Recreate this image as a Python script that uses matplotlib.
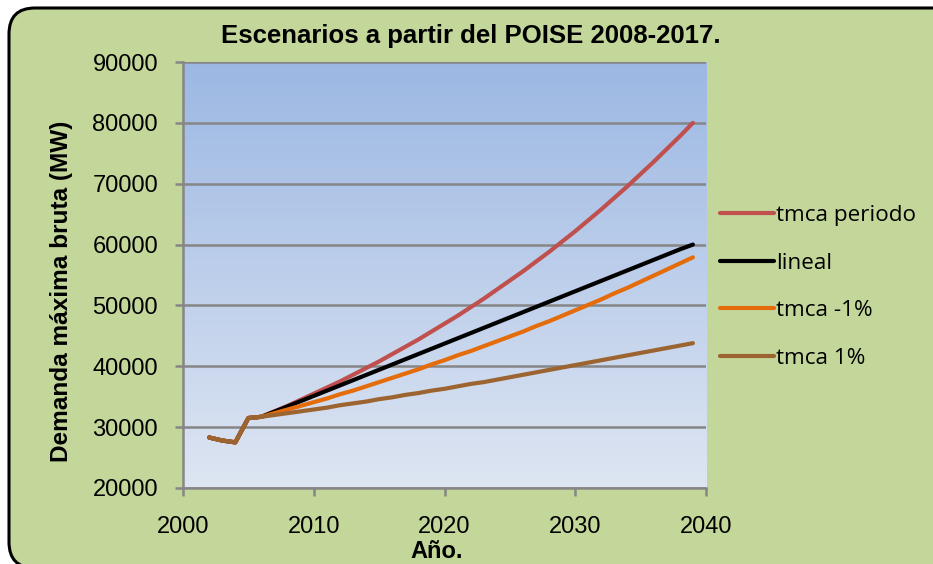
import matplotlib.pyplot as plt
from matplotlib.patches import FancyBboxPatch
import numpy as np

plt.rcParams['font.family'] = ['Liberation Sans', 'DejaVu Sans']

years = list(range(2002, 2040))

# historico 2002-2006, then scenarios to 2039
hist = [28300, 27800, 27500, 31500, 31700]

tmca_periodo = hist + [32600, 33500, 34500, 35500, 36500, 37500, 38600, 39700, 40800,
                       42000, 43200, 44400, 45700, 47000, 48300, 49700, 51100, 52600,
                       54100, 55600, 57200, 58800, 60500, 62200, 64000, 65800, 67700,
                       69600, 71600, 73600, 75700, 77800, 80000]
lineal = hist + [32550, 33410, 34270, 35130, 35990, 36850, 37710, 38570, 39430,
                 40290, 41150, 42010, 42870, 43730, 44590, 45450, 46310, 47170,
                 48030, 48890, 49750, 50610, 51470, 52330, 53190, 54050, 54910,
                 55770, 56630, 57490, 58350, 59210, 60000]
tmca_m1 = hist + [32300, 32900, 33500, 34100, 34700, 35400, 36000, 36700, 37400,
                  38100, 38800, 39500, 40300, 41000, 41800, 42500, 43300, 44100,
                  44900, 45700, 46600, 47400, 48300, 49200, 50100, 51000, 52000,
                  52900, 53900, 54900, 55900, 56900, 57900]
tmca_1 = hist + [32000, 32300, 32600, 32900, 33200, 33600, 33900, 34200, 34600,
                 34900, 35300, 35600, 36000, 36300, 36700, 37100, 37400, 37800,
                 38200, 38600, 39000, 39400, 39800, 40200, 40600, 41000, 41400,
                 41800, 42200, 42600, 43000, 43400, 43800]

series = [("tmca periodo", tmca_periodo, "#c0504d"),
          ("lineal", lineal, "#000000"),
          ("tmca -1%", tmca_m1, "#e46c0a"),
          ("tmca 1%", tmca_1, "#9c6430")]

fig = plt.figure(figsize=(9.33, 5.64), dpi=100)
fig.patch.set_facecolor("white")

# rounded green chart area on a background axes
bg = fig.add_axes([0, 0, 1, 1], zorder=-1)
bg.set_xlim(0, 933)
bg.set_ylim(564, 0)
bg.axis("off")
bg.add_patch(FancyBboxPatch((9, 8), 960, 560,
                            boxstyle="round,pad=0,rounding_size=26",
                            facecolor="#c4d79b", edgecolor="black", linewidth=2.2))

ax = fig.add_axes([183 / 933, 1 - 488 / 564, (706 - 183) / 933, (488 - 62) / 564])
ax.set_facecolor("none")

# vertical gradient background
grad = np.linspace(0, 1, 256).reshape(-1, 1)
top = np.array([0.61, 0.72, 0.89])
bot = np.array([0.87, 0.90, 0.95])
img = top + (bot - top) * grad[:, :, None] * np.ones((1, 1, 3))
ax.imshow(img, extent=[0, 1, 0, 1], transform=ax.transAxes, aspect="auto", zorder=0)

for name, vals, col in series:
    ax.plot(years, vals, color=col, lw=3, label=name, solid_capstyle="round", zorder=3)
# redraw history in brown on top as in reference
ax.plot(years[:5], hist, color="#9c6430", lw=3, solid_capstyle="round", zorder=4)

ax.set_xlim(2000, 2040)
ax.set_ylim(20000, 90000)
ax.set_xticks([2000, 2010, 2020, 2030, 2040])
ax.set_yticks(range(20000, 90001, 10000))
ax.yaxis.grid(True, color="#868686", lw=1.8, zorder=1)
ax.set_axisbelow(True)
for s in ["top", "right"]:
    ax.spines[s].set_visible(False)
for s in ["left", "bottom"]:
    ax.spines[s].set_color("#868686")
    ax.spines[s].set_linewidth(1.8)
ax.tick_params(colors="#868686", width=1.8, length=6, labelsize=17, labelcolor="black")
ax.tick_params(axis="y", pad=12)
ax.tick_params(axis="x", pad=14.5)

fig.text(471 / 933, 1 - 36 / 564, "Escenarios a partir del POISE 2008-2017.",
         ha="center", va="center", fontsize=18.5, fontweight="bold")
fig.text(62 / 933, 1 - 291 / 564, "Demanda máxima bruta (MW)", rotation=90,
         ha="center", va="center", fontsize=17.6, fontweight="bold")
fig.text(437 / 933, 1 - 551 / 564, "Año.", ha="center", va="center",
         fontsize=17, fontweight="bold")

leg = fig.legend(loc="center left", bbox_to_anchor=(700 / 933, 1 - 287 / 564),
                 frameon=False, handlelength=2.4, handletextpad=0.1,
                 labelspacing=1.18, prop={"family": "Open Sans", "size": 16.2})

fig.savefig("out.png", dpi=100)
